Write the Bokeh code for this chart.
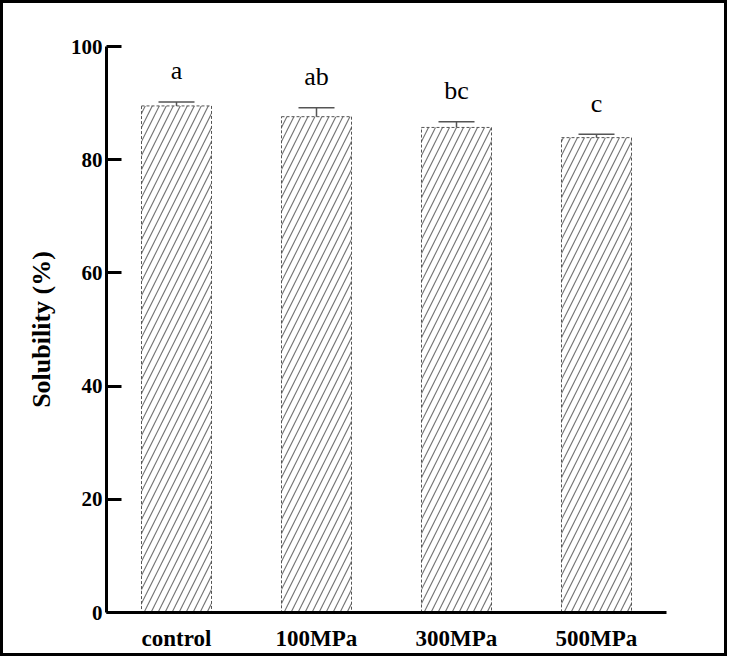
from bokeh.plotting import figure
from bokeh.models import ColumnDataSource, Range1d, FixedTicker, Whisker, TeeHead
from bokeh.core.properties import value
from bokeh.embed import file_html
from bokeh.resources import INLINE

categories = ["control", "100MPa", "300MPa", "500MPa"]
solubility = [89.5, 87.6, 85.7, 83.9]
sd = [0.7, 1.6, 1.0, 0.6]
letters = ["a", "ab", "bc", "c"]
y_ticks = [0, 20, 40, 60, 80, 100]

upper = [m + s for m, s in zip(solubility, sd)]
lower = [m - s for m, s in zip(solubility, sd)]
src = ColumnDataSource(dict(cat=categories, val=solubility, upper=upper,
                            lower=lower, letters=letters))

SERIF = "Liberation Serif"

p = figure(x_range=categories, y_range=Range1d(0, 100), width=727, height=656,
           output_backend="svg", toolbar_location=None,
           min_border_left=103, min_border_right=64, min_border_top=43, min_border_bottom=47)
p.styles = {"border": "3px solid black", "box-sizing": "border-box"}
p.x_range.range_padding = 0
p.outline_line_color = None
p.grid.grid_line_color = None
p.background_fill_color = "white"
p.border_fill_color = "white"

p.vbar(x="cat", top="val", width=0.5, source=src, fill_color="white",
       line_color="#555555", line_width=1, line_dash="3 2",
       hatch_pattern="/", hatch_color="#777777", hatch_scale=14, hatch_weight=1.2)

wh = Whisker(source=src, base="cat", upper="upper", lower="lower", dimension="height",
             line_color="#555555", line_width=1.5,
             upper_head=TeeHead(size=36, line_color="#555555", line_width=1.5),
             lower_head=TeeHead(size=36, line_color="#555555", line_width=1.5))
p.add_layout(wh)

p.text(x="cat", y="upper", text="letters", source=src, y_offset=-31,
       text_align="center", text_baseline="middle",
       text_font=value(SERIF), text_font_size="26px", text_color="black")

# y axis
ya = p.yaxis[0]
ya.ticker = FixedTicker(ticks=y_ticks)
ya.minor_tick_line_color = None
ya.major_tick_in = 15
ya.major_tick_out = 0
ya.major_tick_line_width = 3
ya.axis_line_width = 3
ya.major_label_standoff = 4
ya.major_label_text_font = SERIF
ya.major_label_text_font_style = "bold"
ya.major_label_text_font_size = "21px"
ya.major_label_text_color = "black"
ya.axis_label = "Solubility (%)"
ya.axis_label_text_font = SERIF
ya.axis_label_text_font_style = "bold"
ya.axis_label_text_font_size = "26px"
ya.axis_label_standoff = 12
ya.axis_label_text_color = "black"

# x axis
xa = p.xaxis[0]
xa.major_tick_line_color = None
xa.minor_tick_line_color = None
xa.major_tick_in = 0
xa.major_tick_out = 0
xa.axis_line_width = 3
xa.major_label_standoff = 13
xa.major_label_text_font = SERIF
xa.major_label_text_font_style = "bold"
xa.major_label_text_font_size = "23px"
xa.major_label_text_color = "black"

open("out.html", "w").write(file_html(p, INLINE))
